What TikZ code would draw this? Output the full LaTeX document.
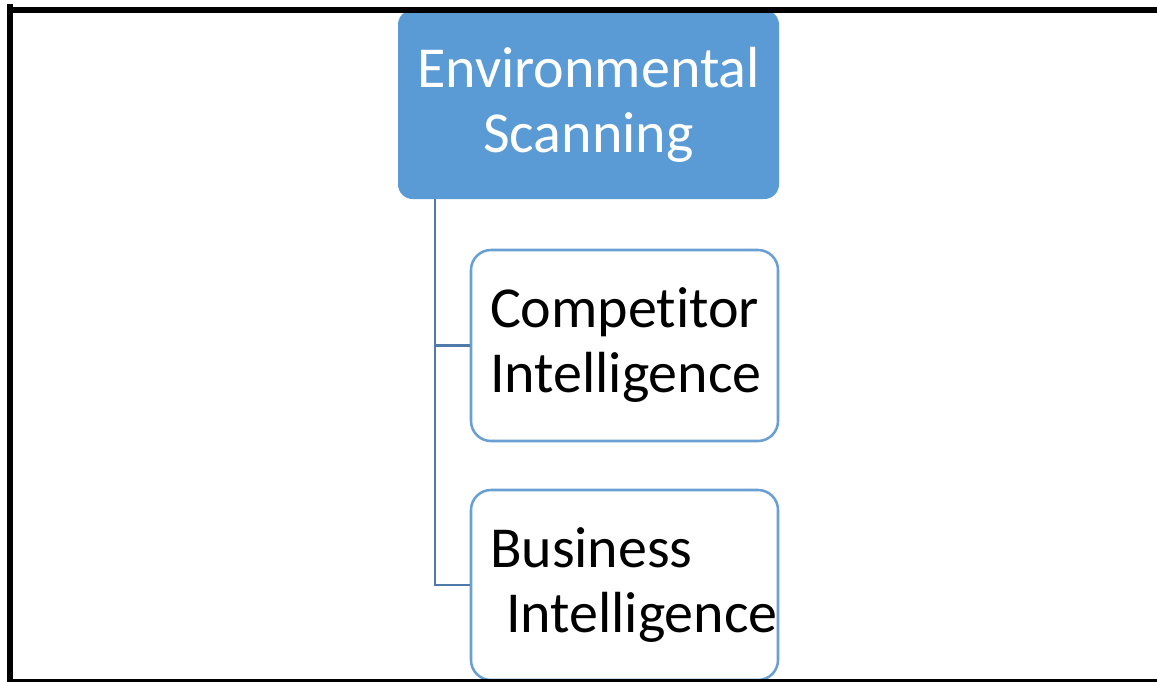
\documentclass[tikz,border=0pt]{standalone}
\usepackage{fontspec}
\setmainfont{Carlito}[Ligatures=NoCommon]
\begin{document}
\begin{tikzpicture}[x=0.75pt,y=-0.75pt,
  topbox/.style={draw=none,fill=topblue,rounded corners=11pt,minimum width=285.75pt,minimum height=141.75pt,
    text=white,align=center,font=\fontsize{43.5}{48.75}\selectfont,inner sep=0pt},
  childbox/.style={draw=childblue,line width=1.9pt,fill=white,rounded corners=15pt,
    text width=201.75pt,inner xsep=14.25pt,inner ysep=0pt,align=left,
    font=\fontsize{43.5}{48.75}\selectfont},
  conn/.style={draw=connblue,line width=2pt},
  frame/.style={draw=black,line width=4.5pt}]
\definecolor{topblue}{HTML}{5B9BD5}
\definecolor{childblue}{HTML}{6A9FD3}
\definecolor{connblue}{HTML}{4F7AAA}
\useasboundingbox (0,0) rectangle (1157,682);
\fill[white] (0,0) rectangle (1157,682);
\node[topbox] (env) at (588.5,104.5) {Environmental\\Scanning};
\node[childbox,minimum height=143.25pt] (ci) at (624.5,345.5) {Competitor\\\mbox{Intelligence}};
\node[childbox,minimum height=142.5pt] (bi) at (624.5,585) {Business\\\hspace*{12pt}\mbox{Intelligence}};
\coordinate (trunk) at (435,199);
\draw[conn] (trunk) |- (ci.west);
\draw[conn] (trunk) |- (bi.west);
\coordinate (f1) at (10,4);
\coordinate (f2) at (10,682);
\coordinate (f3) at (7,10);
\coordinate (f4) at (1157,10);
\coordinate (f5) at (7,682);
\coordinate (f6) at (1157,682);
\draw[frame] (f1) -- (f2);
\draw[frame] (f3) -- (f4);
\draw[frame] (f5) -- (f6);
\end{tikzpicture}
\end{document}
